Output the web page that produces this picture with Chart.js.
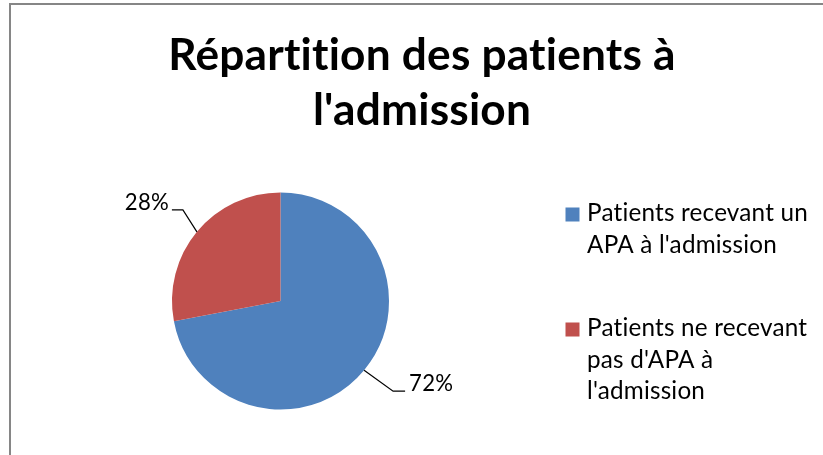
<!DOCTYPE html>
<html><head><meta charset="utf-8">
<script src="https://cdn.jsdelivr.net/npm/chart.js@4.4.0/dist/chart.umd.min.js"></script>
<style>html,body{margin:0;padding:0;background:#fff;overflow:hidden}#wrap{width:823px;height:455px}</style>
</head><body><div id="wrap"><canvas id="c" width="823" height="455"></canvas></div>
<script>
const categories = [["Patients recevant un", "APA à l'admission"], ["Patients ne recevant", "pas d'APA à", "l'admission"]];
const values = [72, 28];
const valueLabels = ["72%", "28%"];
const colors = ["#4F81BD", "#C0504D"];
const titleLines = ["Répartition des patients à", "l'admission"];

const FONT = "Lato, 'Open Sans', sans-serif";

function fitSize(ctx, text, weight, target, base) {
  ctx.font = weight + " " + base + "px " + FONT;
  const w = ctx.measureText(text).width;
  return base * target / w;
}

const decor = {
  id: 'decor',
  afterDraw(chart) {
    const ctx = chart.ctx;
    ctx.save();
    if ('letterSpacing' in ctx) ctx.letterSpacing = '0.2px';
    // frame
    ctx.strokeStyle = "#868686";
    ctx.lineWidth = 2;
    ctx.beginPath();
    ctx.moveTo(10, 460); ctx.lineTo(10, 4); ctx.lineTo(830, 4);
    ctx.stroke();

    // title
    const tSize = fitSize(ctx, titleLines[0], "bold", 508, 40);
    ctx.font = "bold " + tSize.toFixed(2) + "px " + FONT;
    ctx.fillStyle = "#000";
    ctx.textAlign = "center";
    ctx.textBaseline = "alphabetic";
    const tBase = [70, 125];
    titleLines.forEach((l, i) => ctx.fillText(l, 422, tBase[i]));

    // data labels with leader lines
    const meta = chart.getDatasetMeta(0);
    const lSize = fitSize(ctx, "28%", "normal", 44, 26);
    ctx.font = lSize.toFixed(2) + "px " + FONT;
    const leader = [
      {dx: 29, dy: 21, h: 12, gap: 4},
      {dx: -14, dy: -22, h: -11, gap: 3}
    ];
    ctx.strokeStyle = "#000";
    ctx.lineWidth = 1.2;
    meta.data.forEach((arc, i) => {
      const p = arc.getProps(['x', 'y', 'startAngle', 'endAngle', 'outerRadius'], true);
      const mid = (p.startAngle + p.endAngle) / 2;
      const ex = p.x + Math.cos(mid) * p.outerRadius;
      const ey = p.y + Math.sin(mid) * p.outerRadius;
      const L = leader[i];
      const bx = ex + L.dx, by = ey + L.dy;
      const hx = bx + L.h;
      ctx.beginPath();
      ctx.moveTo(ex, ey); ctx.lineTo(bx, by); ctx.lineTo(hx, by);
      ctx.stroke();
      ctx.textAlign = L.h > 0 ? "left" : "right";
      ctx.fillText(valueLabels[i], hx + (L.h > 0 ? L.gap : -L.gap), by);
    });

    // legend
    const gSize = fitSize(ctx, categories[0][0], "normal", 221, 24);
    ctx.font = gSize.toFixed(2) + "px " + FONT;
    ctx.textAlign = "left";
    const legTop = [207.5, 322.5];
    const legBase = [221, 336];
    const lineH = 31.5;
    categories.forEach((lines, i) => {
      ctx.fillStyle = colors[i];
      ctx.fillRect(565.5, legTop[i], 14, 14);
      ctx.fillStyle = "#000";
      lines.forEach((l, j) => ctx.fillText(l, 587, legBase[i] + j * lineH));
    });
    ctx.restore();
  }
};

new Chart(document.getElementById('c'), {
  type: 'pie',
  data: {
    labels: categories,
    datasets: [{
      data: values,
      backgroundColor: colors,
      borderWidth: 0
    }]
  },
  options: {
    responsive: false,
    devicePixelRatio: 1,
    animation: false,
    layout: {padding: {left: 172, right: 434, top: 192, bottom: 45}},
    plugins: {legend: {display: false}, tooltip: {enabled: false}, title: {display: false}}
  },
  plugins: [decor]
});
</script>
</body></html>
